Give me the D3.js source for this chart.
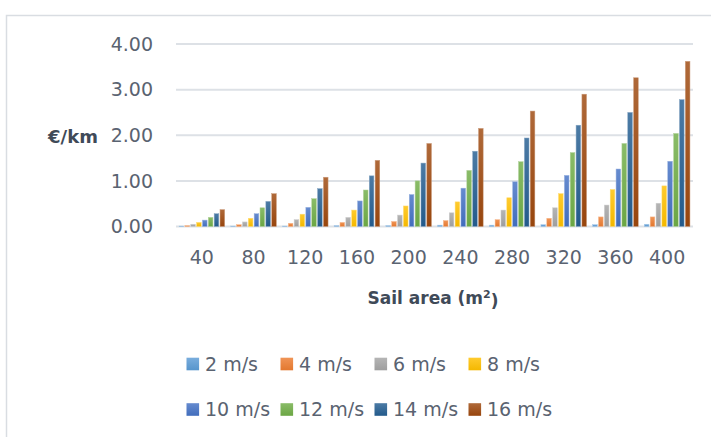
<!DOCTYPE html>
<html>
<head>
<meta charset="utf-8">
<script src="https://cdn.jsdelivr.net/npm/d3@7"></script>
<style>
  html, body { margin: 0; padding: 0; background: #fff; }
  svg { display: block; }
  text { font-family: "DejaVu Sans", sans-serif; }
</style>
</head>
<body>
<script>
// Sail area categories (m²)
const categories = ["40", "80", "120", "160", "200", "240", "280", "320", "360", "400"];

// Wind speed series
const seriesNames = ["2 m/s", "4 m/s", "6 m/s", "8 m/s", "10 m/s", "12 m/s", "14 m/s", "16 m/s"];
const seriesColors = ["#5B9BD5", "#ED7D31", "#A5A5A5", "#FFC000", "#4472C4", "#70AD47", "#255E91", "#9E480E"];

// Cost in €/km per sail area, one array per wind speed
const v2  = [0.01, 0.01, 0.01, 0.02, 0.02, 0.03, 0.03, 0.04, 0.04, 0.05];
const v4  = [0.02, 0.04, 0.07, 0.09, 0.11, 0.13, 0.15, 0.18, 0.21, 0.21];
const v6  = [0.05, 0.10, 0.15, 0.20, 0.25, 0.30, 0.36, 0.41, 0.47, 0.51];
const v8  = [0.09, 0.18, 0.27, 0.36, 0.45, 0.54, 0.63, 0.72, 0.81, 0.89];
const v10 = [0.14, 0.28, 0.42, 0.56, 0.70, 0.84, 0.98, 1.12, 1.26, 1.43];
const v12 = [0.20, 0.41, 0.61, 0.80, 1.00, 1.23, 1.42, 1.62, 1.82, 2.04];
const v14 = [0.28, 0.55, 0.83, 1.11, 1.39, 1.65, 1.94, 2.22, 2.50, 2.78];
const v16 = [0.37, 0.72, 1.08, 1.45, 1.82, 2.15, 2.53, 2.90, 3.26, 3.62];
const seriesValues = [v2, v4, v6, v8, v10, v12, v14, v16];

const yTicks = [0, 1, 2, 3, 4];
const yTickLabels = ["0.00", "1.00", "2.00", "3.00", "4.00"];

const W = 711, H = 437;
const svg = d3.select("body").append("svg").attr("width", W).attr("height", H);

svg.append("rect").attr("width", W).attr("height", H).attr("fill", "#fff");

// Chart frame (top and left edges)
svg.append("path")
  .attr("d", "M6.5,437 V15.5 H711")
  .attr("fill", "none").attr("stroke", "#D9DDE2").attr("stroke-width", 1.5);

const plot = { left: 176, right: 693, top: 44, bottom: 226.5 };

const x0 = d3.scaleBand().domain(categories).range([plot.left, plot.right]).padding(0);
const x1 = d3.scaleBand().domain(seriesNames).range([0, x0.bandwidth()])
  .paddingInner(0.21).paddingOuter(0.52);
const y = d3.scaleLinear().domain([0, 4]).range([plot.bottom, plot.top]);

// Gradients for bar fills
const defs = svg.append("defs");
seriesNames.forEach((s, i) => {
  const c = seriesColors[i];
  const g = defs.append("linearGradient").attr("id", "g" + i)
    .attr("x1", 0).attr("y1", 0).attr("x2", 0).attr("y2", 1);
  g.append("stop").attr("offset", "0%").attr("stop-color", d3.interpolateRgb(c, "#fff")(0.18));
  g.append("stop").attr("offset", "100%").attr("stop-color", d3.color(c).darker(0.12));
});

// Gridlines
svg.append("g").selectAll("line").data(yTicks).join("line")
  .attr("x1", plot.left).attr("x2", plot.right)
  .attr("y1", d => y(d)).attr("y2", d => y(d))
  .attr("stroke", "#DDE1E6").attr("stroke-width", 2);

// Y tick labels
svg.append("g").selectAll("text").data(yTicks).join("text")
  .attr("x", 153).attr("y", d => y(d)).attr("dy", "0.36em")
  .attr("text-anchor", "end").attr("font-size", 19).attr("fill", "#5A6371")
  .text((d, i) => yTickLabels[i]);

// Bars
const groups = svg.append("g").selectAll("g").data(categories).join("g")
  .attr("transform", d => `translate(${x0(d)},0)`);
groups.selectAll("rect")
  .data((d, ci) => seriesNames.map((s, si) => ({ s, si, v: seriesValues[si][ci] })))
  .join("rect")
  .attr("x", d => x1(d.s))
  .attr("width", x1.bandwidth())
  .attr("y", d => y(d.v))
  .attr("height", d => y(0) - y(d.v))
  .attr("fill", d => `url(#g${d.si})`)
  .attr("stroke", d => d3.interpolateRgb(seriesColors[d.si], "#fff")(0.45))
  .attr("stroke-width", 0.5);

// X tick labels
svg.append("g").selectAll("text").data(categories).join("text")
  .attr("x", d => x0(d) + x0.bandwidth() / 2).attr("y", 257).attr("dy", "0.36em")
  .attr("text-anchor", "middle").attr("font-size", 19).attr("fill", "#5A6371")
  .text(d => d);

// Axis titles
svg.append("text").attr("x", 73).attr("y", 137).attr("dy", "0.36em")
  .attr("text-anchor", "middle").attr("font-size", 18).attr("font-weight", "bold")
  .attr("fill", "#3F4A58").text("€/km");

const xt = svg.append("text").attr("x", 433).attr("y", 298).attr("dy", "0.36em")
  .attr("text-anchor", "middle").attr("font-size", 17).attr("font-weight", "bold")
  .attr("fill", "#3F4A58");
xt.append("tspan").text("Sail area (m");
xt.append("tspan").attr("font-size", 11).attr("dy", "-0.6em").text("2");
xt.append("tspan").attr("dy", "0.55em").text(")");

// Legend
const legend = svg.append("g").selectAll("g").data(seriesNames).join("g")
  .attr("transform", (d, i) => `translate(${186.5 + (i % 4) * 94},${i < 4 ? 364 : 409.5})`);
legend.append("rect").attr("x", 0).attr("y", -6.3).attr("width", 12.6).attr("height", 12.6)
  .attr("fill", (d, i) => `url(#g${i})`);
legend.append("text").attr("x", 18.5).attr("y", 0).attr("dy", "0.36em")
  .attr("font-size", 19).attr("fill", "#5A6371").text(d => d);
</script>
</body>
</html>
